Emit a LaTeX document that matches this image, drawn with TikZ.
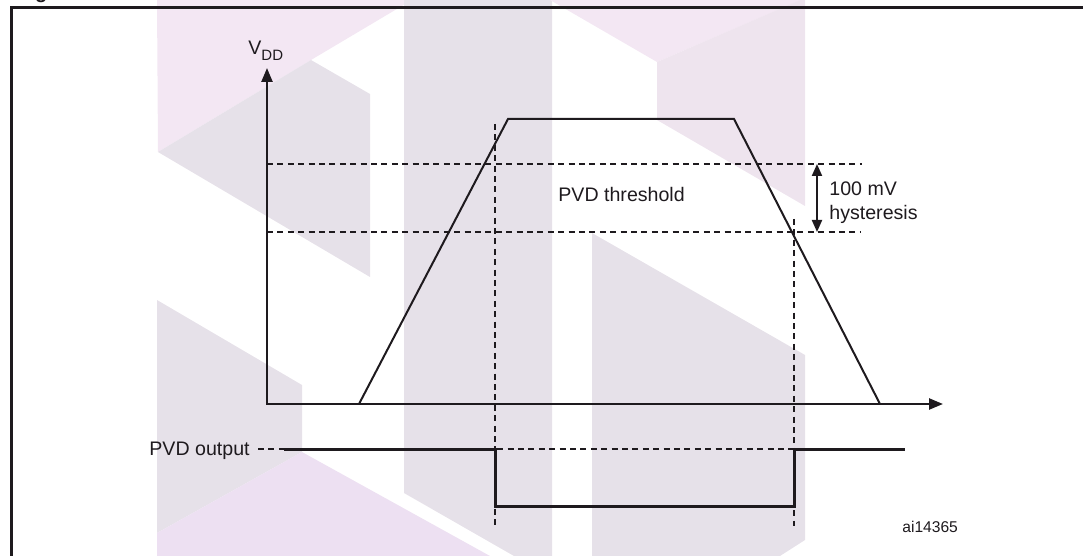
\documentclass[tikz,border=0pt]{standalone}
\usepackage{fontspec}
\setmainfont{Liberation Sans}
\usetikzlibrary{arrows.meta}
\definecolor{wmgray}{RGB}{230,225,233}
\definecolor{wmpink}{RGB}{243,231,243}
\definecolor{wmmid}{RGB}{238,228,238}
\definecolor{wmlow}{RGB}{237,224,242}
\definecolor{ink}{RGB}{30,26,30}
\tikzset{
  wm/.style={draw=none},
  axisline/.style={line width=1.2pt, ink, {Triangle[length=7pt,width=5.5pt]}-{Triangle[length=7pt,width=5.5pt]}},
  curve/.style={line width=1pt, ink, line join=miter},
  dashline/.style={line width=0.6pt, ink, dash pattern=on 3pt off 2.2pt},
  outline/.style={line width=1.5pt, ink, line join=miter},
  hyst/.style={line width=1pt, ink, {Triangle[length=6pt,width=5pt]}-{Triangle[length=6pt,width=5pt]}},
  lbl/.style={anchor=base west, inner sep=0pt, text=ink, font=\fontsize{9.8}{11.8}\selectfont},
}
\begin{document}
\begin{tikzpicture}[x=0.5pt, y=-0.5pt]
\useasboundingbox (0,0) rectangle (1083,556);
\clip (0,0) rectangle (1083,556);
% watermark
\fill[wmpink] (157,0) -- (412,0) -- (311,60) -- (158,152) -- cycle;
\fill[wmgray] (158,152) -- (311,60) -- (370,94) -- (370,277) -- cycle;
\fill[wmgray] (157,300) -- (302,385) -- (302,452) -- (157,533) -- cycle;
\fill[wmlow] (157,533) -- (302,452) -- (490,556) -- (157,556) -- cycle;
\fill[wmgray] (404,0) -- (552,0) -- (552,556) -- (514,556) -- (404,493) -- cycle;
\fill[wmpink] (550,0) -- (801,0) -- (657,62) -- cycle;
\fill[wmmid] (657,62) -- (805,-2) -- (805,206) -- (657,120) -- cycle;
\fill[wmgray] (592,233) -- (805,355) -- (805,540) -- (780,556) -- (592,556) -- cycle;
% frame and title fragment
\node[anchor=base west, inner sep=0pt, text=ink, font=\bfseries\fontsize{10}{12}\selectfont] (title) at (17,-1) {Figure};
\draw[line width=1.5pt, ink] (11,600) -- (11,7.5) -- (1100,7.5);
% coordinates
\coordinate (O) at (267,404);
\coordinate (Ytip) at (267,68);
\coordinate (Xtip) at (943,404);
\coordinate (r0) at (359,404);
\coordinate (r1) at (508,119);
\coordinate (f1) at (734,119);
\coordinate (f0) at (880,404);
\coordinate (thU0) at (267,164);
\coordinate (thU1) at (862,164);
\coordinate (thL0) at (267,232);
\coordinate (thL1) at (860,232);
\coordinate (vL0) at (495,124);
\coordinate (vL1) at (495,527);
\coordinate (vR0) at (794,219);
\coordinate (vR1) at (794,526);
\coordinate (hU) at (817,164);
\coordinate (hL) at (817,232);
\coordinate (od0) at (258,449);
\coordinate (o0) at (284,449);
\coordinate (o1) at (495,449);
\coordinate (o2) at (495,506);
\coordinate (o3) at (794,506);
\coordinate (o4) at (794,449);
\coordinate (o5) at (905,449);
% dashed guides
\draw[dashline] (thU0) -- (thU1);
\draw[dashline] (thL0) -- (thL1);
\draw[dashline] (vL0) -- (vL1);
\draw[dashline] (vR0) -- (vR1);
\draw[dashline] (od0) -- (o4);
% axes
\draw[axisline] (Ytip) -- (O) -- (Xtip);
% VDD waveform
\draw[curve] (r0) -- (r1) -- (f1) -- (f0);
% hysteresis arrow
\draw[hyst] (hU) -- (hL);
% PVD output
\draw[outline] (o0) -- (o1) -- (o2) -- (o3) -- (o4) -- (o5);
% labels
\node[lbl] (vdd) at (248,55) {V\raisebox{-3pt}{\fontsize{7.5}{9}\selectfont DD}};
\node[lbl] (thr) at (558,202) {PVD threshold};
\node[lbl] (mv) at (829,196) {100 mV};
\node[lbl] (hys) at (829,220) {hysteresis};
\node[lbl] (pout) at (149,455) {PVD output};
\node[lbl, font=\fontsize{7.8}{9}\selectfont] (ref) at (902,532) {ai14365};
\end{tikzpicture}
\end{document}
